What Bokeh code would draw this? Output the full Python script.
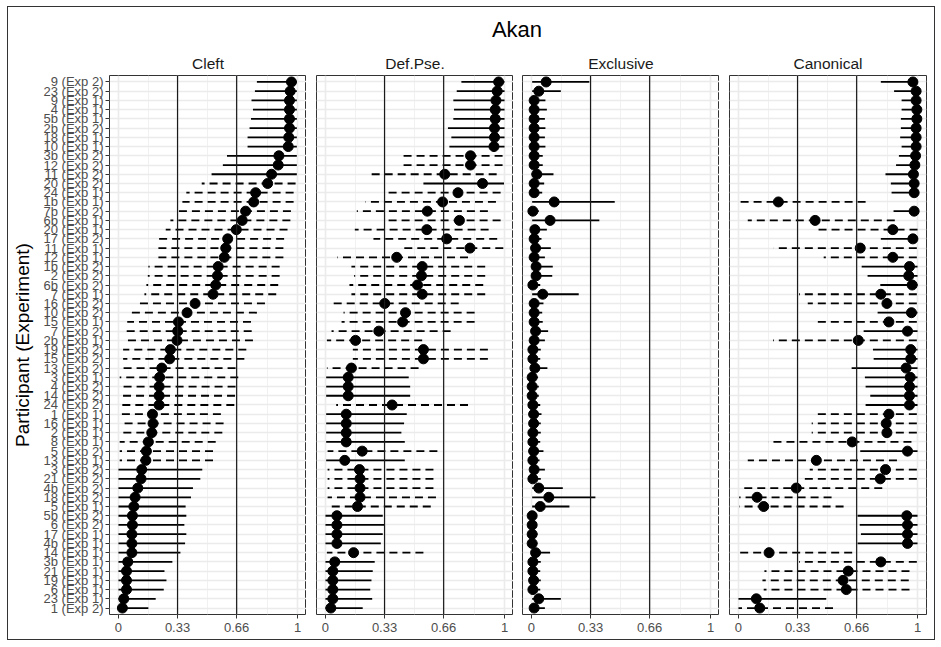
from bokeh.plotting import figure
from bokeh.layouts import column, row
from bokeh.models import ColumnDataSource, FactorRange, Range1d, FixedTicker, Span, Label
from bokeh.embed import file_html
from bokeh.resources import INLINE

# ---------------- data (top row first) ----------------
participants = [
    "9 (Exp 2)", "23 (Exp 2)", "9 (Exp 1)", "4 (Exp 1)", "5b (Exp 1)", "2b (Exp 2)",
    "18 (Exp 1)", "10 (Exp 1)", "3b (Exp 2)", "12 (Exp 2)", "11 (Exp 2)", "20 (Exp 2)",
    "24 (Exp 1)", "1b (Exp 1)", "7b (Exp 2)", "6b (Exp 1)", "20 (Exp 1)", "17 (Exp 2)",
    "11 (Exp 1)", "12 (Exp 1)", "1b (Exp 2)", "2 (Exp 2)", "6b (Exp 2)", "7 (Exp 1)",
    "16 (Exp 2)", "10 (Exp 2)", "15 (Exp 1)", "7 (Exp 2)", "2b (Exp 1)", "19 (Exp 2)",
    "15 (Exp 2)", "13 (Exp 2)", "3 (Exp 1)", "4 (Exp 2)", "14 (Exp 2)", "24 (Exp 2)",
    "1 (Exp 1)", "16 (Exp 1)", "2 (Exp 1)", "8 (Exp 1)", "5 (Exp 2)", "13 (Exp 1)",
    "3 (Exp 2)", "21 (Exp 2)", "4b (Exp 2)", "18 (Exp 2)", "5 (Exp 1)", "5b (Exp 2)",
    "6 (Exp 2)", "17 (Exp 1)", "4b (Exp 1)", "14 (Exp 1)", "3b (Exp 1)", "21 (Exp 1)",
    "19 (Exp 1)", "6 (Exp 1)", "23 (Exp 1)", "1 (Exp 2)",
]

panel_names = ["Cleft", "Def.Pse.", "Exclusive", "Canonical"]

cleft_est = [0.966, 0.959, 0.955, 0.955, 0.955, 0.955, 0.951, 0.948, 0.896, 0.892, 0.855, 0.833,
             0.766, 0.755, 0.710, 0.691, 0.658, 0.610, 0.599, 0.591, 0.557, 0.553, 0.543, 0.528,
             0.428, 0.383, 0.335, 0.331, 0.327, 0.290, 0.286, 0.242, 0.230, 0.227, 0.227, 0.227,
             0.190, 0.193, 0.186, 0.167, 0.156, 0.153, 0.130, 0.126, 0.108, 0.093, 0.086, 0.078,
             0.078, 0.075, 0.075, 0.075, 0.052, 0.045, 0.045, 0.045, 0.030, 0.022]
cleft_lo = [0.773, 0.762, 0.743, 0.751, 0.740, 0.732, 0.721, 0.721, 0.606, 0.583, 0.520, 0.465,
            0.379, 0.357, 0.312, 0.290, 0.264, 0.208, 0.197, 0.197, 0.167, 0.164, 0.156, 0.145,
            0.093, 0.063, 0.049, 0.045, 0.041, 0.026, 0.026, 0.011, 0.007, 0.007, 0.007, 0.007,
            0.007, 0.007, 0.009, 0.007, 0.007, 0.007, 0.0, 0.0, 0.0, 0.0, 0.0, 0.0,
            0.0, 0.0, 0.0, 0.0, 0.0, 0.0, 0.0, 0.0, 0.0, 0.0]
cleft_hi = [0.996, 0.996, 0.996, 0.996, 0.996, 0.996, 0.996, 0.996, 0.996, 0.996, 0.996, 0.989,
            0.978, 0.978, 0.963, 0.960, 0.944, 0.925, 0.921, 0.921, 0.900, 0.900, 0.892, 0.881,
            0.818, 0.773, 0.740, 0.744, 0.751, 0.714, 0.703, 0.654, 0.669, 0.654, 0.651, 0.647,
            0.572, 0.587, 0.580, 0.543, 0.528, 0.528, 0.468, 0.457, 0.416, 0.405, 0.375, 0.379,
            0.368, 0.379, 0.372, 0.346, 0.301, 0.257, 0.268, 0.253, 0.208, 0.167]

defpse_est = [0.967, 0.959, 0.952, 0.948, 0.948, 0.944, 0.944, 0.941, 0.810, 0.810, 0.666, 0.877,
              0.740, 0.654, 0.569, 0.748, 0.566, 0.677, 0.807, 0.398, 0.540, 0.536, 0.514, 0.540,
              0.331, 0.447, 0.431, 0.298, 0.168, 0.547, 0.547, 0.145, 0.127, 0.127, 0.127, 0.372,
              0.116, 0.116, 0.116, 0.116, 0.205, 0.108, 0.190, 0.193, 0.193, 0.193, 0.179, 0.064,
              0.064, 0.064, 0.064, 0.157, 0.052, 0.041, 0.041, 0.041, 0.041, 0.030]
defpse_lo = [0.759, 0.733, 0.714, 0.718, 0.714, 0.684, 0.703, 0.692, 0.409, 0.428, 0.250, 0.547,
             0.331, 0.224, 0.175, 0.331, 0.164, 0.268, 0.420, 0.067, 0.145, 0.160, 0.134, 0.145,
             0.045, 0.101, 0.090, 0.034, 0.008, 0.153, 0.153, 0.008, 0.004, 0.004, 0.004, 0.060,
             0.004, 0.004, 0.004, 0.004, 0.012, 0.004, 0.012, 0.012, 0.012, 0.012, 0.012, 0.0,
             0.0, 0.0, 0.0, 0.008, 0.0, 0.0, 0.0, 0.0, 0.0, 0.0]
defpse_hi = [1.0, 1.0, 1.0, 1.0, 1.0, 1.0, 1.0, 1.0, 0.989, 0.989, 0.956, 0.997,
             0.978, 0.952, 0.907, 0.978, 0.911, 0.959, 0.993, 0.796, 0.892, 0.892, 0.881, 0.892,
             0.744, 0.833, 0.833, 0.699, 0.540, 0.907, 0.907, 0.520, 0.465, 0.473, 0.473, 0.796,
             0.454, 0.439, 0.424, 0.443, 0.625, 0.443, 0.603, 0.603, 0.603, 0.617, 0.588, 0.320,
             0.331, 0.320, 0.309, 0.547, 0.275, 0.264, 0.257, 0.250, 0.261, 0.208]

excl_est = [0.082, 0.041, 0.015, 0.015, 0.015, 0.015, 0.015, 0.015, 0.015, 0.015, 0.030, 0.015,
            0.015, 0.127, 0.008, 0.104, 0.019, 0.015, 0.023, 0.015, 0.026, 0.026, 0.008, 0.063,
            0.015, 0.015, 0.015, 0.023, 0.015, 0.008, 0.008, 0.019, 0.004, 0.004, 0.004, 0.008,
            0.012, 0.012, 0.008, 0.008, 0.012, 0.008, 0.015, 0.008, 0.041, 0.097, 0.049, 0.004,
            0.004, 0.004, 0.004, 0.023, 0.008, 0.008, 0.012, 0.008, 0.041, 0.015]
excl_lo = [0.004, 0.004, 0.0, 0.0, 0.0, 0.0, 0.0, 0.0, 0.0, 0.0, 0.0, 0.0,
           0.0, 0.004, 0.0, 0.004, 0.0, 0.0, 0.0, 0.0, 0.0, 0.0, 0.0, 0.004,
           0.0, 0.0, 0.0, 0.0, 0.0, 0.0, 0.0, 0.0, 0.0, 0.0, 0.0, 0.0,
           0.0, 0.0, 0.0, 0.0, 0.0, 0.0, 0.0, 0.0, 0.004, 0.004, 0.004, 0.0,
           0.0, 0.0, 0.0, 0.0, 0.0, 0.0, 0.0, 0.0, 0.004, 0.0]
excl_hi = [0.323, 0.164, 0.078, 0.086, 0.075, 0.078, 0.075, 0.078, 0.063, 0.063, 0.123, 0.071,
           0.060, 0.465, 0.041, 0.379, 0.086, 0.056, 0.108, 0.075, 0.119, 0.116, 0.049, 0.264,
           0.067, 0.060, 0.063, 0.093, 0.075, 0.052, 0.049, 0.089, 0.037, 0.041, 0.041, 0.049,
           0.056, 0.052, 0.052, 0.049, 0.067, 0.045, 0.075, 0.052, 0.175, 0.357, 0.212, 0.030,
           0.030, 0.034, 0.034, 0.104, 0.052, 0.049, 0.052, 0.049, 0.164, 0.075]

canon_est = [0.974, 0.992, 0.992, 0.996, 0.996, 0.992, 0.992, 0.992, 0.989, 0.985, 0.977, 0.981,
             0.981, 0.223, 0.981, 0.428, 0.862, 0.974, 0.680, 0.862, 0.955, 0.951, 0.970, 0.795,
             0.829, 0.966, 0.840, 0.944, 0.669, 0.962, 0.962, 0.936, 0.959, 0.955, 0.955, 0.955,
             0.840, 0.825, 0.829, 0.635, 0.944, 0.435, 0.821, 0.792, 0.323, 0.104, 0.141, 0.940,
             0.944, 0.944, 0.944, 0.171, 0.795, 0.613, 0.584, 0.602, 0.100, 0.119]
canon_lo = [0.795, 0.869, 0.911, 0.911, 0.907, 0.907, 0.903, 0.911, 0.896, 0.880, 0.821, 0.851,
            0.855, 0.004, 0.866, 0.052, 0.446, 0.795, 0.197, 0.476, 0.688, 0.721, 0.792, 0.338,
            0.387, 0.777, 0.416, 0.699, 0.193, 0.751, 0.755, 0.632, 0.706, 0.710, 0.736, 0.710,
            0.424, 0.409, 0.409, 0.167, 0.680, 0.052, 0.398, 0.346, 0.022, 0.004, 0.004, 0.665,
            0.677, 0.684, 0.665, 0.004, 0.338, 0.145, 0.134, 0.141, 0.0, 0.0]
canon_hi = [1.0, 1.0, 1.0, 1.0, 1.0, 1.0, 1.0, 1.0, 1.0, 1.0, 1.0, 1.0,
            1.0, 0.710, 1.0, 0.873, 1.0, 1.0, 0.996, 0.996, 1.0, 1.0, 1.0, 0.996,
            0.996, 1.0, 0.996, 1.0, 0.996, 1.0, 1.0, 1.0, 1.0, 1.0, 1.0, 1.0,
            0.996, 0.996, 0.996, 0.966, 1.0, 0.885, 0.996, 0.996, 0.803, 0.520, 0.587, 1.0,
            1.0, 1.0, 1.0, 0.635, 0.996, 0.955, 0.951, 0.955, 0.490, 0.528]

x_ticks = [0, 0.33, 0.66, 1]
x_tick_labels = ["0", "0.33", "0.66", "1"]
x_minor_ticks = [0.165, 0.495, 0.83]
ref_lines = [0.33, 0.66]
chance = 0.5

series = [
    (cleft_est, cleft_lo, cleft_hi),
    (defpse_est, defpse_lo, defpse_hi),
    (excl_est, excl_lo, excl_hi),
    (canon_est, canon_lo, canon_hi),
]

# ---------------- styling ----------------
FONT = "Liberation Sans"
FRAME_W, FRAME_H = 197, 539
left_borders = [100, 10, 9, 10]

yr = FactorRange(factors=list(reversed(participants)), range_padding=0.2,
                 range_padding_units="absolute")


def make_panel(i, name, est, lo, hi):
    p = figure(frame_width=FRAME_W, frame_height=FRAME_H,
               x_range=Range1d(-0.05, 1.05), y_range=yr,
               toolbar_location=None, output_backend="svg",
               min_border_left=left_borders[i],
               min_border_right=8 if i == 3 else 0,
               min_border_top=25, min_border_bottom=25,
               title=name)
    p.title.align = "center"
    p.title.text_font = FONT
    p.title.text_font_size = "15.5px"
    p.title.text_font_style = "normal"
    p.title.text_color = "#1A1A1A"
    p.title.standoff = 7

    p.background_fill_color = "white"
    p.border_fill_color = "white"
    p.outline_line_color = "#333333"
    p.outline_line_width = 1

    p.xaxis.ticker = FixedTicker(ticks=x_ticks, minor_ticks=x_minor_ticks)
    p.xaxis.major_label_overrides = {t: l for t, l in zip(x_ticks, x_tick_labels)}
    p.axis.axis_line_color = None
    p.axis.major_tick_line_color = "#333333"
    p.axis.major_tick_out = 4
    p.axis.major_tick_in = 0
    p.axis.minor_tick_line_color = None
    p.axis.major_label_text_font = FONT
    p.axis.major_label_text_font_size = "13px"
    p.axis.major_label_text_color = "#4D4D4D"
    p.yaxis.major_label_standoff = 2
    p.xaxis.major_label_standoff = 4

    if i == 0:
        p.yaxis.axis_label = "Participant (Experiment)"
        p.yaxis.axis_label_text_font = FONT
        p.yaxis.axis_label_text_font_size = "19px"
        p.yaxis.axis_label_text_font_style = "normal"
        p.yaxis.axis_label_text_color = "black"
        p.yaxis.axis_label_standoff = 8
    else:
        p.yaxis.visible = False

    p.xgrid.grid_line_color = "#EBEBEB"
    p.xgrid.grid_line_width = 1.6
    p.xgrid.minor_grid_line_color = "#EFEFEF"
    p.xgrid.minor_grid_line_width = 0.9
    p.ygrid.grid_line_color = "#EBEBEB"
    p.ygrid.grid_line_width = 1.5

    for v in ref_lines:
        p.add_layout(Span(location=v, dimension="height", line_color="#1A1A1A",
                          line_width=1.2))

    solid = [(l > chance) or (h < chance) for l, h in zip(lo, hi)]
    src_s = ColumnDataSource(dict(
        lab=[a for a, s in zip(participants, solid) if s],
        lo=[a for a, s in zip(lo, solid) if s],
        hi=[a for a, s in zip(hi, solid) if s]))
    src_d = ColumnDataSource(dict(
        lab=[a for a, s in zip(participants, solid) if not s],
        lo=[a for a, s in zip(lo, solid) if not s],
        hi=[a for a, s in zip(hi, solid) if not s]))
    p.segment(x0="hi", x1="lo", y0="lab", y1="lab", source=src_s,
              line_color="black", line_width=1.8)
    p.segment(x0="hi", x1="lo", y0="lab", y1="lab", source=src_d,
              line_color="black", line_width=1.8, line_dash="8 5")
    src_p = ColumnDataSource(dict(lab=participants, est=est))
    p.scatter(x="est", y="lab", source=src_p, size=10, color="black")
    return p


panels = [make_panel(i, n, *s) for i, (n, s) in enumerate(zip(panel_names, series))]

header = figure(width=925, height=42, x_range=Range1d(0, 1), y_range=Range1d(0, 1),
                toolbar_location=None, output_backend="svg",
                min_border_left=100, min_border_right=8, min_border_top=0,
                min_border_bottom=0)
header.axis.visible = False
header.grid.visible = False
header.outline_line_color = None
header.add_layout(Label(x=0.5, y=0.47, text="Akan", text_align="center",
                        text_baseline="middle", text_font=FONT,
                        text_font_size="22px", text_color="black"))

layout = column(header, row(*panels, spacing=0), spacing=0,
                margin=(6, 0, 0, 7),
                styles={"border": "1px solid #333333"})

open("out.html", "w").write(file_html(layout, INLINE))
